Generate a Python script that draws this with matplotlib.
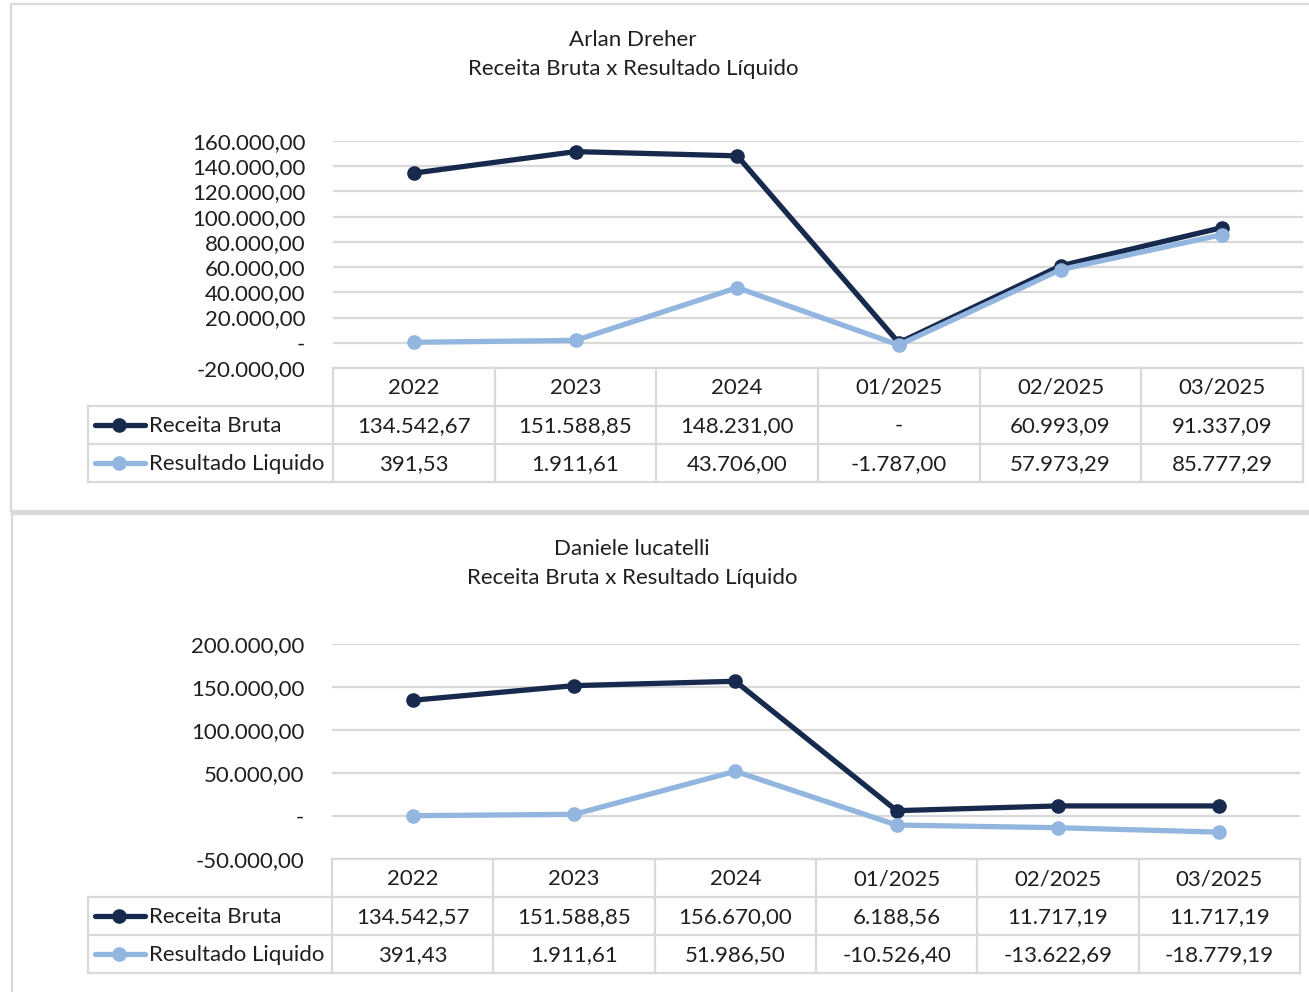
import matplotlib
matplotlib.use("Agg")
import matplotlib.pyplot as plt
from matplotlib.lines import Line2D

plt.rcParams['font.family'] = ['Lato', 'DejaVu Sans']

# ── data ─────────────────────────────────────────
categories = ["2022", "2023", "2024", "01/2025", "02/2025", "03/2025"]
series_names = ["Receita Bruta", "Resultado Liquido"]

arlan_receita = [134542.67, 151588.85, 148231.00, 0.0, 60993.09, 91337.09]
arlan_resultado = [391.53, 1911.61, 43706.00, -1787.00, 57973.29, 85777.29]

daniele_receita = [134542.57, 151588.85, 156670.00, 6188.56, 11717.19, 11717.19]
daniele_resultado = [391.43, 1911.61, 51986.50, -10526.40, -13622.69, -18779.19]

titles = ["Arlan Dreher", "Daniele lucatelli"]
subtitle = "Receita Bruta x Resultado Líquido"

# ── style ────────────────────────────────────────
W, H = 1309, 992
DARK = "#172A4E"
LIGHT = "#92B6E0"
GRID = "#D9D9D9"
TXT = "#1F1F1F"
FS = 16
LW = 3.8
MS = 9.5


def br(v):
    # brazilian number format, zero shown as "-"
    if abs(v) < 1e-9:
        return "-"
    s = f"{v:,.2f}"
    return s.replace(",", "#").replace(".", ",").replace("#", ".")


def px_axes(fig, x0, y0, x1, y1):
    return fig.add_axes([x0 / W, 1 - y1 / H, (x1 - x0) / W, (y1 - y0) / H])


fig = plt.figure(figsize=(W / 100, H / 100), dpi=100)
over = fig.add_axes([0, 0, 1, 1], zorder=5)
over.set_xlim(0, W)
over.set_ylim(H, 0)
over.axis("off")
over.patch.set_alpha(0)

# panel borders
over.plot([11, 11, W + 5], [511, 4, 4], color=GRID, lw=1.6)
over.plot([11, W + 5], [511, 511], color=GRID, lw=1.6)
over.plot([12, 12], [H + 5, 513], color=GRID, lw=1.6)
over.plot([12, W + 5], [513, 513], color=GRID, lw=2.4)

panels = [
    dict(title=titles[0], t_y=40, t_x=633, plot=(333, 141, 1303, 368), legx=88,
         ylim=(-20000, 160000), step=20000, rh=38,
         data=[arlan_receita, arlan_resultado]),
    dict(title=titles[1], t_y=549, t_x=632, plot=(332, 644, 1300, 859), legx=88,
         ylim=(-50000, 200000), step=50000, rh=38,
         data=[daniele_receita, daniele_resultado]),
]

colors = [DARK, LIGHT]

for p in panels:
    x0, y0, x1, y1 = p["plot"]
    cx = p["t_x"]
    over.text(cx, p["t_y"], p["title"], ha="center", va="center",
              fontsize=FS, color=TXT)
    over.text(cx, p["t_y"] + 29, subtitle, ha="center", va="center",
              fontsize=FS, color=TXT)

    ax = px_axes(fig, x0, y0, x1, y1)
    lo, hi = p["ylim"]
    ticks = list(range(lo, hi + 1, p["step"]))
    ax.set_ylim(lo, hi)
    ax.set_xlim(-0.5, len(categories) - 0.5)
    ax.set_yticks(ticks)
    ax.set_yticklabels([br(t) for t in ticks], fontsize=FS, color=TXT)
    ax.tick_params(axis="y", length=0, pad=20)
    ax.set_xticks([])
    for s in ax.spines.values():
        s.set_visible(False)
    ax.yaxis.grid(True, color=GRID, lw=1.6)
    ax.set_axisbelow(True)
    ax.patch.set_alpha(0)
    for vals, c in zip(p["data"], colors):
        ax.plot(range(len(categories)), vals, color=c, lw=LW,
                marker="o", ms=MS, solid_joinstyle="round", clip_on=False)

    # ── data table ──
    rh = p["rh"]
    ncol = len(categories)
    cw = (x1 - x0) / ncol
    xs = [x0 + i * cw for i in range(ncol + 1)]
    r0, r1, r2, r3 = y1, y1 + rh, y1 + 2 * rh, y1 + 3 * rh
    lx = p["legx"]
    # horizontal lines
    over.plot([x0, x1], [r0, r0], color=GRID, lw=1.6)
    for yy in (r1, r2, r3):
        over.plot([lx, x1], [yy, yy], color=GRID, lw=1.6)
    # vertical lines
    over.plot([lx, lx], [r1, r3], color=GRID, lw=1.6)
    for xx in xs:
        over.plot([xx, xx], [r0, r3], color=GRID, lw=1.6)

    for i, cat in enumerate(categories):
        xc = (xs[i] + xs[i + 1]) / 2
        over.text(xc, (r0 + r1) / 2 + 1, cat, ha="center", va="center",
                  fontsize=FS, color=TXT)
    for j, (vals, c, name) in enumerate(zip(p["data"], colors, series_names)):
        yc = (r1 + r2) / 2 + j * rh
        over.add_line(Line2D([lx + 7, lx + 57], [yc, yc], color=c, lw=LW,
                             solid_capstyle="round"))
        over.plot([lx + 31], [yc], marker="o", ms=MS, color=c)
        over.text(lx + 61, yc + 1, name, ha="left", va="center",
                  fontsize=FS, color=TXT)
        for i, v in enumerate(vals):
            xc = (xs[i] + xs[i + 1]) / 2
            over.text(xc, yc + 1, br(v), ha="center", va="center",
                      fontsize=FS, color=TXT)

fig.savefig("out.png", dpi=100, facecolor="white")
